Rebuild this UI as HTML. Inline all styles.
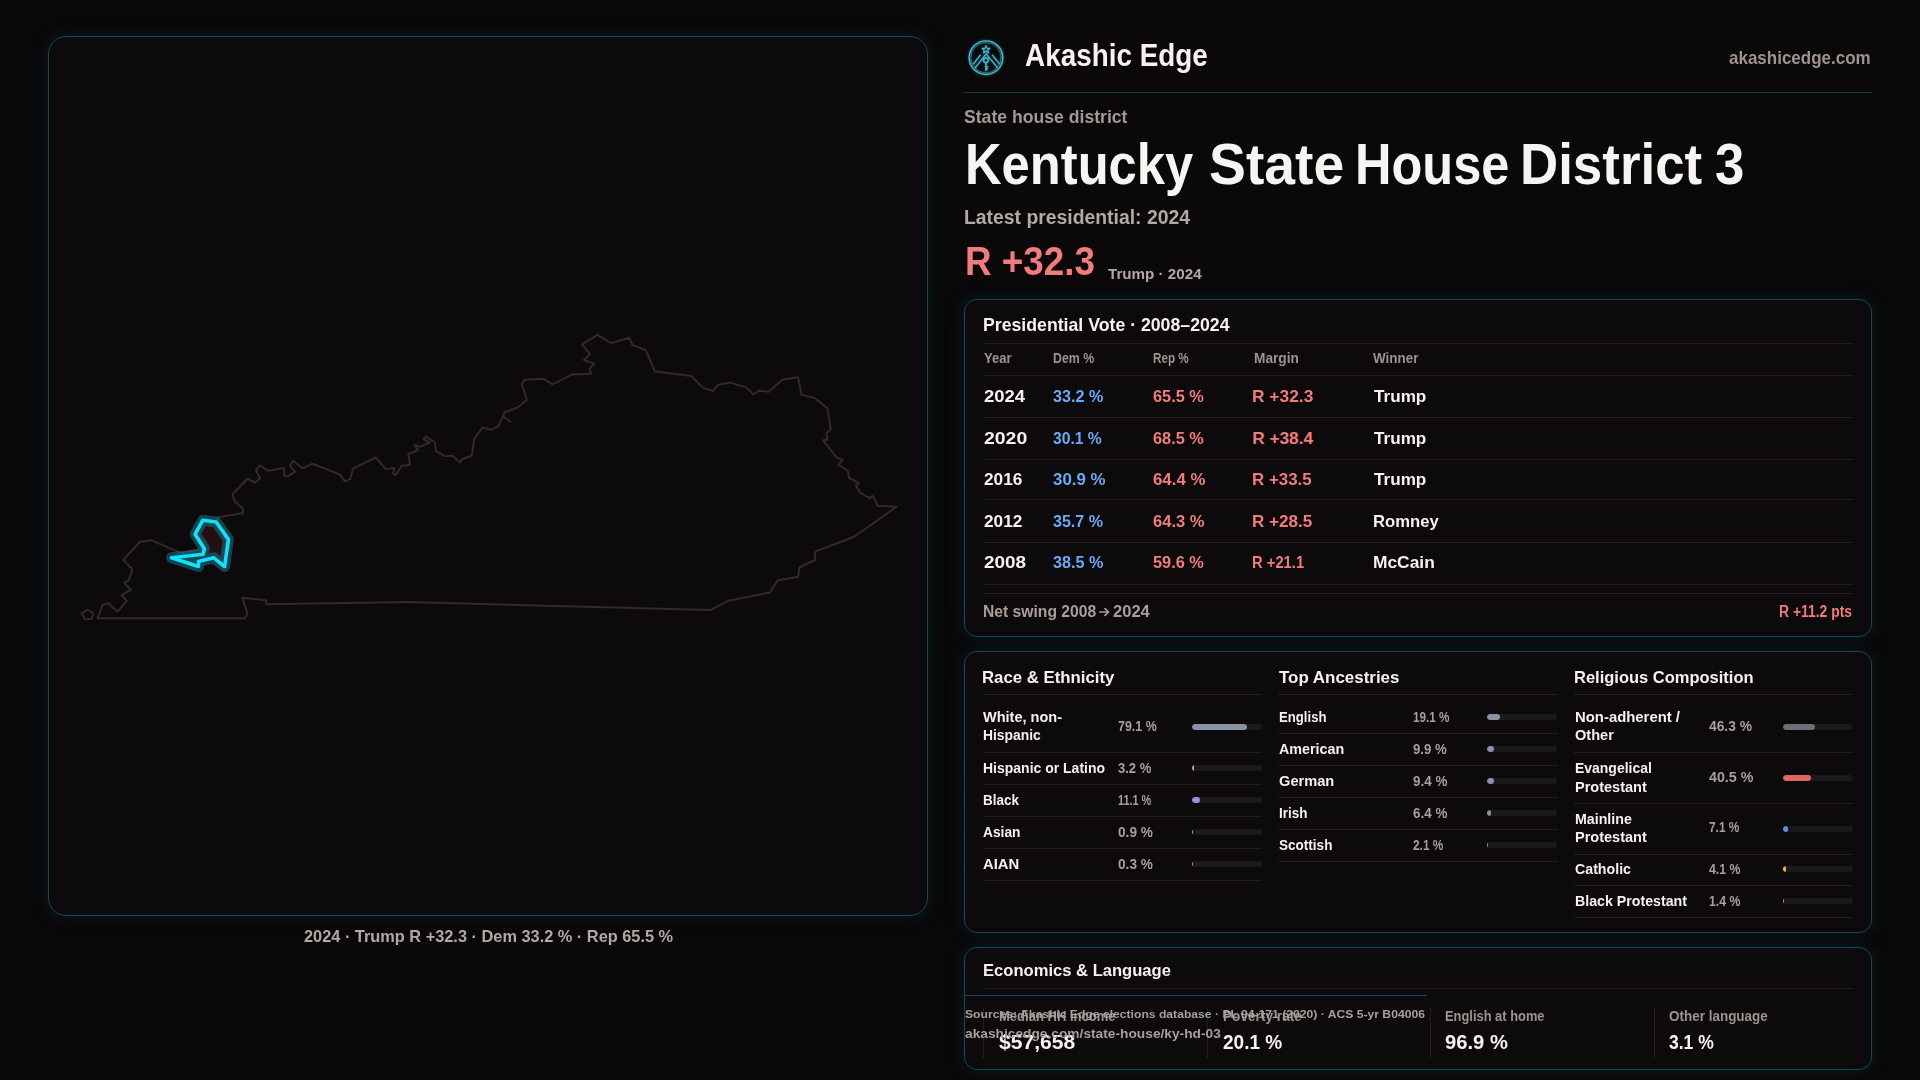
<!DOCTYPE html><html><head><meta charset="utf-8"><style>
html,body{margin:0;padding:0;width:1920px;height:1080px;overflow:hidden;background:#0a0809;}
body{position:relative;font-family:"Liberation Sans",sans-serif;}
.t{position:absolute;white-space:pre;line-height:1;transform-origin:0 0;}
.pn{position:absolute;box-sizing:border-box;border:1px solid #104b57;background:#0c0a0b;box-shadow:0 0 20px 1px rgba(16,100,118,0.17);}
.ln{position:absolute;height:1px;background:#221e1f;}
.vl{position:absolute;width:1px;background:#221e1f;}
.tr{position:absolute;height:6px;border-radius:3px;background:#1b191a;overflow:hidden;}
.fi{position:absolute;left:0;top:0;height:6px;border-radius:3px;}
</style></head><body>

<div class="pn" style="left:48px;top:36px;width:880px;height:880px;border-radius:18px;"></div>
<div class="pn" style="left:964px;top:299px;width:908px;height:338px;border-radius:13px;"></div>
<div class="pn" style="left:964px;top:651px;width:908px;height:282px;border-radius:13px;"></div>
<div class="pn" style="left:964px;top:947px;width:908px;height:123px;border-radius:13px;"></div>
<div class="ln" style="left:964px;top:92px;width:908px;background:#12434b;"></div>
<div class="ln" style="left:983px;top:343px;width:870px;"></div>
<div class="ln" style="left:983px;top:375px;width:870px;"></div>
<div class="ln" style="left:983px;top:417px;width:870px;"></div>
<div class="ln" style="left:983px;top:459px;width:870px;"></div>
<div class="ln" style="left:983px;top:499px;width:870px;"></div>
<div class="ln" style="left:983px;top:542px;width:870px;"></div>
<div class="ln" style="left:983px;top:584px;width:870px;"></div>
<div class="ln" style="left:983px;top:593px;width:870px;"></div>
<div class="ln" style="left:983px;top:694px;width:279px;"></div>
<div class="ln" style="left:1278px;top:694px;width:280px;"></div>
<div class="ln" style="left:1574px;top:694px;width:279px;"></div>
<div class="ln" style="left:983px;top:752px;width:279px;"></div>
<div class="ln" style="left:983px;top:784px;width:279px;"></div>
<div class="ln" style="left:983px;top:816px;width:279px;"></div>
<div class="ln" style="left:983px;top:848px;width:279px;"></div>
<div class="ln" style="left:983px;top:880px;width:279px;"></div>
<div class="ln" style="left:1278px;top:733px;width:280px;"></div>
<div class="ln" style="left:1278px;top:765px;width:280px;"></div>
<div class="ln" style="left:1278px;top:797px;width:280px;"></div>
<div class="ln" style="left:1278px;top:829px;width:280px;"></div>
<div class="ln" style="left:1278px;top:861px;width:280px;"></div>
<div class="ln" style="left:1574px;top:752px;width:279px;"></div>
<div class="ln" style="left:1574px;top:803px;width:279px;"></div>
<div class="ln" style="left:1574px;top:854px;width:279px;"></div>
<div class="ln" style="left:1574px;top:885px;width:279px;"></div>
<div class="ln" style="left:1574px;top:917px;width:279px;"></div>
<div class="ln" style="left:983px;top:988px;width:870px;"></div>
<div class="vl" style="left:983px;top:1008px;height:50px;"></div>
<div class="vl" style="left:1207px;top:1008px;height:50px;"></div>
<div class="vl" style="left:1430px;top:1008px;height:50px;"></div>
<div class="vl" style="left:1654px;top:1008px;height:50px;"></div>
<div class="ln" style="left:964px;top:995px;width:463px;background:#104b57;"></div>
<div class="tr" style="left:1192px;top:724px;width:70px;"><div class="fi" style="width:55.37px;background:#8893a6;"></div></div>
<div class="tr" style="left:1192px;top:765px;width:70px;"><div class="fi" style="width:2.24px;background:#e3a126;"></div></div>
<div class="tr" style="left:1192px;top:797px;width:70px;"><div class="fi" style="width:7.77px;background:#a28be9;"></div></div>
<div class="tr" style="left:1192px;top:829px;width:70px;"><div class="fi" style="width:0.63px;background:#3fc9a0;"></div></div>
<div class="tr" style="left:1192px;top:861px;width:70px;"><div class="fi" style="width:0.21px;background:#e07a2a;"></div></div>
<div class="tr" style="left:1487px;top:714px;width:70px;"><div class="fi" style="width:13.37px;background:#8893a6;"></div></div>
<div class="tr" style="left:1487px;top:746px;width:70px;"><div class="fi" style="width:6.93px;background:#8893a6;"></div></div>
<div class="tr" style="left:1487px;top:778px;width:70px;"><div class="fi" style="width:6.58px;background:#8893a6;"></div></div>
<div class="tr" style="left:1487px;top:810px;width:70px;"><div class="fi" style="width:4.48px;background:#8893a6;"></div></div>
<div class="tr" style="left:1487px;top:842px;width:70px;"><div class="fi" style="width:1.47px;background:#8893a6;"></div></div>
<div class="tr" style="left:1783px;top:724px;width:70px;"><div class="fi" style="width:32.41px;background:#6b6f79;"></div></div>
<div class="tr" style="left:1783px;top:775px;width:70px;"><div class="fi" style="width:28.35px;background:#e06666;"></div></div>
<div class="tr" style="left:1783px;top:826px;width:70px;"><div class="fi" style="width:4.97px;background:#5b8ff0;"></div></div>
<div class="tr" style="left:1783px;top:866px;width:70px;"><div class="fi" style="width:2.87px;background:#e8b82e;"></div></div>
<div class="tr" style="left:1783px;top:898px;width:70px;"><div class="fi" style="width:0.98px;background:#a07ff0;"></div></div>
<svg style="position:absolute;left:0;top:0" width="960" height="960" viewBox="0 0 960 960">
<polygon points="97.5,618.3 102.5,605.0 108.3,603.3 117.5,611.7 126.7,600.8 121.7,595.0 130.8,590.0 124.2,582.5 128.3,580.8 132.5,569.2 123.3,560.0 140.0,541.7 151.7,540.3 181.7,553.3 205.0,548.0 218.3,517.2 243.3,513.0 242.5,508.3 235.0,501.7 232.5,494.2 247.5,478.7 255.0,482.5 260.0,478.3 255.8,470.0 260.0,465.3 268.3,470.8 284.2,468.0 284.2,475.8 287.5,476.7 295.0,471.7 290.0,465.8 293.3,460.8 302.5,468.3 312.5,463.7 339.2,474.2 345.0,481.3 350.0,479.2 353.3,468.3 375.8,457.5 385.8,469.2 394.2,468.0 393.3,474.2 395.8,475.0 401.7,465.8 410.0,465.0 408.3,454.2 418.3,450.0 414.2,445.0 420.0,446.7 430.0,442.5 423.3,439.2 425.8,436.7 435.0,442.5 435.8,450.8 445.0,456.3 452.5,455.8 460.0,462.5 461.7,459.2 471.7,455.8 474.2,439.2 482.5,427.6 491.2,429.8 498.1,426.2 503.1,416.2 504.4,412.5 517.5,407.5 526.9,400.0 521.9,384.4 524.4,379.8 543.8,378.8 552.5,384.4 572.5,374.4 591.2,373.8 589.4,368.8 594.4,363.8 583.8,360.0 590.0,354.0 581.9,344.4 597.5,334.8 611.2,343.1 629.4,337.8 632.5,345.0 645.6,350.0 655.0,371.5 691.2,376.0 702.6,387.6 713.0,391.0 718.2,385.0 729.7,382.4 746.4,387.6 753.6,394.4 758.9,390.7 768.8,391.8 782.3,379.8 797.9,377.2 801.6,394.9 814.6,398.0 827.6,408.4 830.7,429.3 826.6,432.9 827.1,439.7 822.9,440.2 836.7,457.5 842.5,459.7 838.3,465.0 847.5,470.3 849.2,478.0 859.2,483.3 855.8,485.3 860.0,492.5 869.2,498.0 873.3,495.8 877.5,505.8 896.7,506.7 854.2,536.7 815.0,551.7 815.0,560.0 799.2,567.5 798.3,576.7 777.5,580.3 770.0,592.5 728.3,600.8 710.8,610.0 409.3,602.1 266.5,604.2 266.0,600.3 242.1,597.7 247.5,613.3 245.0,618.3" fill="none" stroke="#2f2a2b" stroke-width="2" stroke-linejoin="round"/>
<polyline points="503.1,416.25 510.6,421.9" stroke="#2f2a2b" stroke-width="2" stroke-linecap="round"/>
<polygon points="81.7,613.3 87.5,609.7 93.3,613.3 91.7,618.7 85.0,619.2" fill="none" stroke="#2f2a2b" stroke-width="2"/>
<polygon points="202.7,520.3 216.2,522.0 228.4,539.4 224.6,566.5 213.8,557.8 198.5,561.6 198.5,566.5 171.5,557.8 203.0,554.3 204.4,548.8 195.1,534.2" fill="#241012" stroke="rgba(22,140,160,0.45)" stroke-width="11" stroke-linejoin="round"/>
<polygon points="202.7,520.3 216.2,522.0 228.4,539.4 224.6,566.5 213.8,557.8 198.5,561.6 198.5,566.5 171.5,557.8 203.0,554.3 204.4,548.8 195.1,534.2" fill="none" stroke="#0fe2ff" stroke-width="3.6" stroke-linejoin="round"/>
</svg>
<svg style="position:absolute;left:1099px;top:607px" width="12" height="10" viewBox="0 0 12 10"><path d="M1 5 L9.5 5 M6 1.6 L9.6 5 L6 8.4" fill="none" stroke="#a99e98" stroke-width="1.7" stroke-linecap="round" stroke-linejoin="round"/></svg>
<svg style="position:absolute;left:960px;top:32px" width="52" height="52" viewBox="0 0 52 52">
<defs><filter id="gl" x="-30%" y="-30%" width="160%" height="160%"><feGaussianBlur stdDeviation="0.9" result="b"/><feComponentTransfer in="b" result="c"><feFuncA type="linear" slope="0.6"/></feComponentTransfer><feMerge><feMergeNode in="c"/><feMergeNode in="SourceGraphic"/></feMerge></filter></defs>
<g fill="none" stroke="#40bcd2" stroke-linecap="round" stroke-linejoin="round" filter="url(#gl)">
<circle cx="26" cy="25.7" r="16.8" stroke-width="1.4"/>
<circle cx="26" cy="25.7" r="15.2" stroke-width="0.7" opacity="0.7"/>
<path d="M26.2 21.8 L15.3 35.6 M26.2 21.8 L37 35.2 M20.4 23.1 L13.4 31.9 M32.4 23.1 L39.4 31.9" stroke-width="1.3"/>
<path d="M26 13.6 L27.1 16.4 L30 16.4 L27.7 18.2 L28.6 21 L26 19.3 L23.4 21 L24.3 18.2 L22 16.4 L24.9 16.4 Z" stroke-width="1.1"/>
<circle cx="25.9" cy="28.2" r="2.4" stroke-width="1.4"/>
<path d="M25.9 30.6 L25.9 38.4 M25.9 34.6 L27.8 34.6 M25.9 36.8 L27.6 36.8" stroke-width="1.4"/>
</g></svg>
<div class="t" style="left:1024.80px;top:41.00px;font-size:30.75px;color:#f5f2ef;font-weight:700;transform:scaleX(0.9064);">Akashic Edge</div>
<div class="t" style="left:1729.20px;top:48.00px;font-size:19.00px;color:#9e938d;font-weight:700;transform:scaleX(0.8939);">akashicedge.com</div>
<div class="t" style="left:964.40px;top:108.00px;font-size:18.50px;color:#a39893;font-weight:700;transform:scaleX(0.9521);">State house district</div>
<div class="t" style="left:964.83px;top:136.00px;font-size:57.00px;color:#f7f5f2;font-weight:700;transform:scaleX(0.8894);">Kentucky</div>
<div class="t" style="left:1208.63px;top:136.00px;font-size:57.00px;color:#f7f5f2;font-weight:700;transform:scaleX(0.9701);">State</div>
<div class="t" style="left:1355.14px;top:136.00px;font-size:57.00px;color:#f7f5f2;font-weight:700;transform:scaleX(0.8867);">House</div>
<div class="t" style="left:1519.82px;top:136.00px;font-size:57.00px;color:#f7f5f2;font-weight:700;transform:scaleX(0.9276);">District</div>
<div class="t" style="left:1715.48px;top:136.00px;font-size:57.00px;color:#f7f5f2;font-weight:700;transform:scaleX(0.9241);">3</div>
<div class="t" style="left:963.78px;top:207.00px;font-size:20.00px;color:#b3a8a2;font-weight:700;transform:scaleX(0.9680);">Latest presidential: 2024</div>
<div class="t" style="left:965.07px;top:242.00px;font-size:40.25px;color:#f27b7b;font-weight:700;transform:scaleX(0.9149);">R +32.3</div>
<div class="t" style="left:1107.70px;top:267.00px;font-size:14.25px;color:#b3a8a2;font-weight:700;transform:scaleX(1.0650);">Trump · 2024</div>
<div class="t" style="left:982.64px;top:316.00px;font-size:18.50px;color:#f5f2ef;font-weight:700;transform:scaleX(0.9562);">Presidential Vote · 2008–2024</div>
<div class="t" style="left:983.60px;top:351.00px;font-size:14.00px;color:#9e938d;font-weight:700;transform:scaleX(0.9357);">Year</div>
<div class="t" style="left:1053.30px;top:351.00px;font-size:14.00px;color:#9e938d;font-weight:700;transform:scaleX(0.8807);">Dem %</div>
<div class="t" style="left:1153.20px;top:351.00px;font-size:14.00px;color:#9e938d;font-weight:700;transform:scaleX(0.8330);">Rep %</div>
<div class="t" style="left:1253.50px;top:351.00px;font-size:14.00px;color:#9e938d;font-weight:700;transform:scaleX(0.9771);">Margin</div>
<div class="t" style="left:1373.30px;top:351.00px;font-size:14.00px;color:#9e938d;font-weight:700;transform:scaleX(0.9588);">Winner</div>
<div class="t" style="left:983.60px;top:388.00px;font-size:17.25px;color:#f5f2ef;font-weight:700;transform:scaleX(1.0727);">2024</div>
<div class="t" style="left:1053.30px;top:388.00px;font-size:17.25px;color:#6aa9f9;font-weight:700;transform:scaleX(0.9369);">33.2 %</div>
<div class="t" style="left:1153.20px;top:388.00px;font-size:17.25px;color:#f27b7b;font-weight:700;transform:scaleX(0.9463);">65.5 %</div>
<div class="t" style="left:1252.19px;top:388.00px;font-size:17.25px;color:#f27b7b;font-weight:700;transform:scaleX(1.0067);">R +32.3</div>
<div class="t" style="left:1373.60px;top:388.00px;font-size:17.25px;color:#f5f2ef;font-weight:700;transform:scaleX(0.9928);">Trump</div>
<div class="t" style="left:983.60px;top:430.00px;font-size:17.25px;color:#f5f2ef;font-weight:700;transform:scaleX(1.1249);">2020</div>
<div class="t" style="left:1053.30px;top:430.00px;font-size:17.25px;color:#6aa9f9;font-weight:700;transform:scaleX(0.9069);">30.1 %</div>
<div class="t" style="left:1153.20px;top:430.00px;font-size:17.25px;color:#f27b7b;font-weight:700;transform:scaleX(0.9463);">68.5 %</div>
<div class="t" style="left:1252.20px;top:430.00px;font-size:17.25px;color:#f27b7b;font-weight:700;">R +38.4</div>
<div class="t" style="left:1373.60px;top:430.00px;font-size:17.25px;color:#f5f2ef;font-weight:700;transform:scaleX(0.9928);">Trump</div>
<div class="t" style="left:983.60px;top:471.00px;font-size:17.25px;color:#f5f2ef;font-weight:700;transform:scaleX(0.9979);">2016</div>
<div class="t" style="left:1053.30px;top:471.00px;font-size:17.25px;color:#6aa9f9;font-weight:700;transform:scaleX(0.9781);">30.9 %</div>
<div class="t" style="left:1153.20px;top:471.00px;font-size:17.25px;color:#f27b7b;font-weight:700;transform:scaleX(0.9763);">64.4 %</div>
<div class="t" style="left:1252.22px;top:471.00px;font-size:17.25px;color:#f27b7b;font-weight:700;transform:scaleX(0.9800);">R +33.5</div>
<div class="t" style="left:1373.60px;top:471.00px;font-size:17.25px;color:#f5f2ef;font-weight:700;transform:scaleX(0.9928);">Trump</div>
<div class="t" style="left:983.60px;top:513.00px;font-size:17.25px;color:#f5f2ef;font-weight:700;transform:scaleX(0.9979);">2012</div>
<div class="t" style="left:1053.30px;top:513.00px;font-size:17.25px;color:#6aa9f9;font-weight:700;transform:scaleX(0.9313);">35.7 %</div>
<div class="t" style="left:1153.20px;top:513.00px;font-size:17.25px;color:#f27b7b;font-weight:700;transform:scaleX(0.9594);">64.3 %</div>
<div class="t" style="left:1252.21px;top:513.00px;font-size:17.25px;color:#f27b7b;font-weight:700;transform:scaleX(0.9900);">R +28.5</div>
<div class="t" style="left:1372.64px;top:513.00px;font-size:17.25px;color:#f5f2ef;font-weight:700;transform:scaleX(0.9650);">Romney</div>
<div class="t" style="left:983.60px;top:554.00px;font-size:17.25px;color:#f5f2ef;font-weight:700;transform:scaleX(1.0959);">2008</div>
<div class="t" style="left:1053.30px;top:554.00px;font-size:17.25px;color:#6aa9f9;font-weight:700;transform:scaleX(0.9369);">38.5 %</div>
<div class="t" style="left:1153.20px;top:554.00px;font-size:17.25px;color:#f27b7b;font-weight:700;transform:scaleX(0.9463);">59.6 %</div>
<div class="t" style="left:1252.34px;top:554.00px;font-size:17.25px;color:#f27b7b;font-weight:700;transform:scaleX(0.8557);">R +21.1</div>
<div class="t" style="left:1372.59px;top:554.00px;font-size:17.25px;color:#f5f2ef;font-weight:700;transform:scaleX(1.0066);">McCain</div>
<div class="t" style="left:982.97px;top:604.00px;font-size:16.75px;color:#a99e98;font-weight:700;transform:scaleX(0.9348);">Net swing 2008</div>
<div class="t" style="left:1113.00px;top:604.00px;font-size:16.75px;color:#a99e98;font-weight:700;transform:scaleX(0.9882);">2024</div>
<div class="t" style="left:1779.07px;top:604.00px;font-size:16.75px;color:#f27b7b;font-weight:700;transform:scaleX(0.8307);">R +11.2 pts</div>
<div class="t" style="left:982.33px;top:669.00px;font-size:17.25px;color:#f5f2ef;font-weight:700;transform:scaleX(0.9718);">Race &amp; Ethnicity</div>
<div class="t" style="left:1278.70px;top:669.00px;font-size:17.25px;color:#f5f2ef;font-weight:700;transform:scaleX(0.9817);">Top Ancestries</div>
<div class="t" style="left:1573.74px;top:669.00px;font-size:17.25px;color:#f5f2ef;font-weight:700;transform:scaleX(0.9560);">Religious Composition</div>
<div class="t" style="left:983.30px;top:710.00px;font-size:14.75px;color:#f5f2ef;font-weight:700;transform:scaleX(0.9842);">White, non-</div>
<div class="t" style="left:983.30px;top:728.00px;font-size:14.75px;color:#f5f2ef;font-weight:700;transform:scaleX(0.9400);">Hispanic</div>
<div class="t" style="left:1118.30px;top:719.00px;font-size:14.75px;color:#a99e98;font-weight:700;transform:scaleX(0.8427);">79.1 %</div>
<div class="t" style="left:983.30px;top:761.00px;font-size:14.75px;color:#f5f2ef;font-weight:700;transform:scaleX(0.9483);">Hispanic or Latino</div>
<div class="t" style="left:1118.30px;top:761.00px;font-size:14.75px;color:#a99e98;font-weight:700;transform:scaleX(0.8829);">3.2 %</div>
<div class="t" style="left:983.30px;top:793.00px;font-size:14.75px;color:#f5f2ef;font-weight:700;transform:scaleX(0.9139);">Black</div>
<div class="t" style="left:1118.30px;top:793.00px;font-size:14.75px;color:#a99e98;font-weight:700;transform:scaleX(0.7379);">11.1 %</div>
<div class="t" style="left:983.30px;top:825.00px;font-size:14.75px;color:#f5f2ef;font-weight:700;transform:scaleX(0.9338);">Asian</div>
<div class="t" style="left:1118.30px;top:825.00px;font-size:14.75px;color:#a99e98;font-weight:700;transform:scaleX(0.9255);">0.9 %</div>
<div class="t" style="left:983.30px;top:857.00px;font-size:14.75px;color:#f5f2ef;font-weight:700;transform:scaleX(1.0056);">AIAN</div>
<div class="t" style="left:1118.30px;top:857.00px;font-size:14.75px;color:#a99e98;font-weight:700;transform:scaleX(0.9255);">0.3 %</div>
<div class="t" style="left:1278.70px;top:710.00px;font-size:14.75px;color:#f5f2ef;font-weight:700;transform:scaleX(0.8919);">English</div>
<div class="t" style="left:1413.30px;top:710.00px;font-size:14.75px;color:#a99e98;font-weight:700;transform:scaleX(0.7947);">19.1 %</div>
<div class="t" style="left:1278.70px;top:742.00px;font-size:14.75px;color:#f5f2ef;font-weight:700;transform:scaleX(0.9700);">American</div>
<div class="t" style="left:1413.30px;top:742.00px;font-size:14.75px;color:#a99e98;font-weight:700;transform:scaleX(0.8962);">9.9 %</div>
<div class="t" style="left:1278.70px;top:774.00px;font-size:14.75px;color:#f5f2ef;font-weight:700;transform:scaleX(0.9922);">German</div>
<div class="t" style="left:1413.30px;top:774.00px;font-size:14.75px;color:#a99e98;font-weight:700;transform:scaleX(0.9095);">9.4 %</div>
<div class="t" style="left:1278.70px;top:806.00px;font-size:14.75px;color:#f5f2ef;font-weight:700;transform:scaleX(0.9120);">Irish</div>
<div class="t" style="left:1413.30px;top:806.00px;font-size:14.75px;color:#a99e98;font-weight:700;transform:scaleX(0.9095);">6.4 %</div>
<div class="t" style="left:1278.70px;top:838.00px;font-size:14.75px;color:#f5f2ef;font-weight:700;transform:scaleX(0.9179);">Scottish</div>
<div class="t" style="left:1413.30px;top:838.00px;font-size:14.75px;color:#a99e98;font-weight:700;transform:scaleX(0.8031);">2.1 %</div>
<div class="t" style="left:1574.60px;top:710.00px;font-size:14.75px;color:#f5f2ef;font-weight:700;transform:scaleX(1.0089);">Non-adherent /</div>
<div class="t" style="left:1574.60px;top:728.00px;font-size:14.75px;color:#f5f2ef;font-weight:700;transform:scaleX(0.9874);">Other</div>
<div class="t" style="left:1709.10px;top:719.00px;font-size:14.75px;color:#a99e98;font-weight:700;transform:scaleX(0.9366);">46.3 %</div>
<div class="t" style="left:1574.60px;top:761.00px;font-size:14.75px;color:#f5f2ef;font-weight:700;transform:scaleX(0.9461);">Evangelical</div>
<div class="t" style="left:1574.60px;top:780.00px;font-size:14.75px;color:#f5f2ef;font-weight:700;transform:scaleX(0.9845);">Protestant</div>
<div class="t" style="left:1709.10px;top:770.00px;font-size:14.75px;color:#a99e98;font-weight:700;transform:scaleX(0.9649);">40.5 %</div>
<div class="t" style="left:1574.60px;top:812.00px;font-size:14.75px;color:#f5f2ef;font-weight:700;transform:scaleX(0.9625);">Mainline</div>
<div class="t" style="left:1574.60px;top:830.00px;font-size:14.75px;color:#f5f2ef;font-weight:700;transform:scaleX(0.9845);">Protestant</div>
<div class="t" style="left:1709.10px;top:820.00px;font-size:14.75px;color:#a99e98;font-weight:700;transform:scaleX(0.8058);">7.1 %</div>
<div class="t" style="left:1574.60px;top:862.00px;font-size:14.75px;color:#f5f2ef;font-weight:700;transform:scaleX(0.9624);">Catholic</div>
<div class="t" style="left:1709.10px;top:862.00px;font-size:14.75px;color:#a99e98;font-weight:700;transform:scaleX(0.8350);">4.1 %</div>
<div class="t" style="left:1574.60px;top:894.00px;font-size:14.75px;color:#f5f2ef;font-weight:700;transform:scaleX(0.9623);">Black Protestant</div>
<div class="t" style="left:1709.10px;top:894.00px;font-size:14.75px;color:#a99e98;font-weight:700;transform:scaleX(0.8350);">1.4 %</div>
<div class="t" style="left:982.64px;top:962.00px;font-size:17.25px;color:#f5f2ef;font-weight:700;transform:scaleX(0.9611);">Economics &amp; Language</div>
<div class="t" style="left:998.60px;top:1009.00px;font-size:14.00px;color:#9e938d;font-weight:700;transform:scaleX(0.9310);">Median HH income</div>
<div class="t" style="left:1222.50px;top:1009.00px;font-size:14.00px;color:#9e938d;font-weight:700;transform:scaleX(0.9748);">Poverty rate</div>
<div class="t" style="left:1445.10px;top:1009.00px;font-size:14.00px;color:#9e938d;font-weight:700;transform:scaleX(0.9203);">English at home</div>
<div class="t" style="left:1669.40px;top:1009.00px;font-size:14.00px;color:#9e938d;font-weight:700;transform:scaleX(0.9621);">Other language</div>
<div class="t" style="left:999.40px;top:1032.00px;font-size:20.75px;color:#f5f2ef;font-weight:700;transform:scaleX(1.0179);">$57,658</div>
<div class="t" style="left:1222.50px;top:1032.00px;font-size:20.75px;color:#f5f2ef;font-weight:700;transform:scaleX(0.9166);">20.1 %</div>
<div class="t" style="left:1445.00px;top:1032.00px;font-size:20.75px;color:#f5f2ef;font-weight:700;transform:scaleX(0.9727);">96.9 %</div>
<div class="t" style="left:1669.40px;top:1032.00px;font-size:20.75px;color:#f5f2ef;font-weight:700;transform:scaleX(0.8439);">3.1 %</div>
<div class="t" style="left:964.70px;top:1008.00px;font-size:11.75px;color:#a99f99;font-weight:700;transform:scaleX(1.0336);">Sources: Akashic Edge elections database · PL 94-171 (2020) · ACS 5-yr B04006</div>
<div class="t" style="left:964.70px;top:1027.00px;font-size:13.00px;color:#a99f99;font-weight:700;transform:scaleX(1.0571);">akashicedge.com/state-house/ky-hd-03</div>
<div class="t" style="left:303.50px;top:928.00px;font-size:17.25px;color:#b3a8a2;font-weight:700;transform:scaleX(0.9471);">2024 · Trump R +32.3 · Dem 33.2 % · Rep 65.5 %</div>
</body></html>
